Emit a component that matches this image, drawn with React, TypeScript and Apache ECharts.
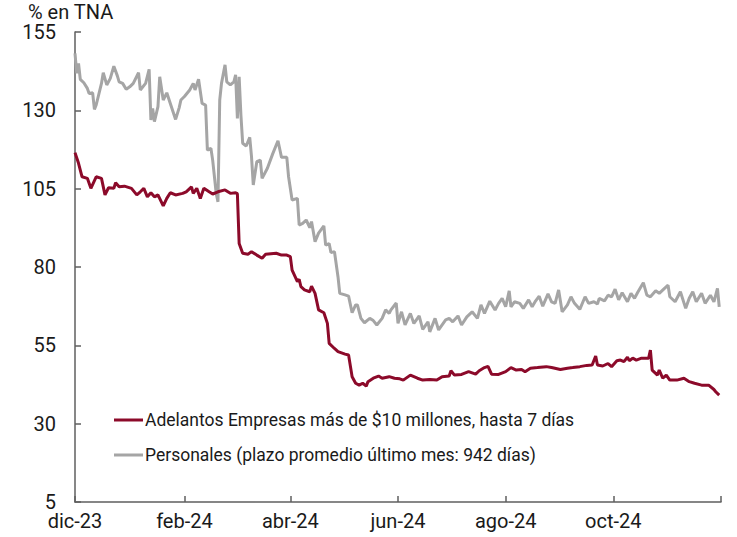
import React, { useEffect, useRef } from "react";
import * as echarts from "echarts";

const titleText = "% en TNA";
const serieNames = [
  "Adelantos Empresas más de $10 millones, hasta 7 días",
  "Personales (plazo promedio último mes: 942 días)",
];
const tickDates = ["2023-12-01", "2024-02-01", "2024-04-01", "2024-06-01", "2024-08-01", "2024-10-01", "2024-12-01"];
const tickLabels = ["dic-23", "feb-24", "abr-24", "jun-24", "ago-24", "oct-24", ""];
const yMin = 5;
const yMax = 155;
const yStep = 25;

const adelantosFechas = [
  "2023-12-01","2023-12-03","2023-12-05","2023-12-08","2023-12-10","2023-12-13","2023-12-16","2023-12-18","2023-12-20","2023-12-23",
  "2023-12-24","2023-12-26","2023-12-29","2024-01-02","2024-01-05","2024-01-07","2024-01-09","2024-01-11","2024-01-13","2024-01-15",
  "2024-01-17","2024-01-20","2024-01-22","2024-01-24","2024-01-27","2024-01-31","2024-02-02","2024-02-05","2024-02-06","2024-02-08",
  "2024-02-10","2024-02-12","2024-02-15","2024-02-17","2024-02-20","2024-02-24","2024-02-27","2024-03-01","2024-03-02","2024-03-03",
  "2024-03-05","2024-03-08","2024-03-10","2024-03-13","2024-03-16","2024-03-18","2024-03-24","2024-03-27","2024-03-30","2024-04-01",
  "2024-04-02","2024-04-05","2024-04-06","2024-04-07","2024-04-09","2024-04-12","2024-04-13","2024-04-15","2024-04-17","2024-04-20",
  "2024-04-22","2024-04-23","2024-04-26","2024-04-28","2024-05-02","2024-05-04","2024-05-06","2024-05-08","2024-05-10","2024-05-12",
  "2024-05-14","2024-05-15","2024-05-18","2024-05-21","2024-05-23","2024-05-27","2024-05-30","2024-06-02","2024-06-04","2024-06-08",
  "2024-06-12","2024-06-15","2024-06-19","2024-06-23","2024-06-26","2024-06-30","2024-07-01","2024-07-03","2024-07-07","2024-07-11",
  "2024-07-15","2024-07-17","2024-07-20","2024-07-22","2024-07-24","2024-07-28","2024-08-01","2024-08-04","2024-08-07","2024-08-10",
  "2024-08-12","2024-08-15","2024-08-19","2024-08-24","2024-08-27","2024-09-01","2024-09-05","2024-09-08","2024-09-12","2024-09-16",
  "2024-09-19","2024-09-21","2024-09-22","2024-09-25","2024-09-28","2024-09-30","2024-10-03","2024-10-05","2024-10-07","2024-10-09",
  "2024-10-10","2024-10-12","2024-10-14","2024-10-17","2024-10-21","2024-10-22","2024-10-23","2024-10-26","2024-10-27","2024-10-29",
  "2024-10-31","2024-11-02","2024-11-06","2024-11-10","2024-11-13","2024-11-16","2024-11-20","2024-11-24","2024-11-27","2024-11-28",
  "2024-11-30",
];
const adelantosValores = [
  116.5,113.1,108.8,108.3,105.1,108.8,108.3,103.0,105.3,105.1,
  106.9,105.6,105.8,105.1,103.0,104.0,105.1,102.4,103.7,102.4,
  103.0,99.5,101.9,103.7,103.0,103.5,104.0,105.6,103.5,105.1,
  101.9,105.1,104.0,103.3,104.0,104.6,103.5,103.7,103.4,87.5,
  84.4,84.1,84.9,83.8,82.8,84.1,84.4,83.8,83.8,83.3,
  79.0,75.3,76.1,73.7,72.7,72.1,73.9,71.6,66.3,65.4,
  62.0,55.6,54.0,53.0,52.2,51.9,45.0,42.9,42.3,42.9,
  42.0,43.4,44.5,45.2,44.5,45.0,44.5,44.3,43.9,45.5,
  44.5,43.9,44.1,43.9,45.0,45.2,46.9,45.5,45.7,46.6,
  45.8,46.9,47.9,48.3,45.8,45.7,46.6,47.9,47.1,47.3,
  46.6,47.7,47.9,48.2,47.9,47.3,47.7,47.9,48.2,48.6,
  48.7,51.6,48.7,48.4,49.2,48.2,50.1,50.3,49.8,51.2,
  50.1,50.9,50.3,50.9,50.9,53.5,47.1,45.5,47.1,44.5,
  45.5,43.9,43.9,44.5,43.4,42.9,42.3,42.3,40.9,40.2,
  39.1,
];

const personalesFechas = [
  "2023-12-01","2023-12-02","2023-12-03","2023-12-04","2023-12-06","2023-12-08","2023-12-09","2023-12-11","2023-12-12","2023-12-13",
  "2023-12-16","2023-12-17","2023-12-19","2023-12-21","2023-12-23","2023-12-25","2023-12-26","2023-12-28","2023-12-30","2024-01-01",
  "2024-01-03","2024-01-06","2024-01-07","2024-01-10","2024-01-12","2024-01-13","2024-01-14","2024-01-15","2024-01-17","2024-01-18",
  "2024-01-20","2024-01-22","2024-01-24","2024-01-27","2024-01-29","2024-01-30","2024-02-01","2024-02-04","2024-02-06","2024-02-07",
  "2024-02-09","2024-02-11","2024-02-13","2024-02-14","2024-02-16","2024-02-17","2024-02-19","2024-02-20","2024-02-21","2024-02-22",
  "2024-02-24","2024-02-25","2024-02-27","2024-02-29","2024-03-01","2024-03-02","2024-03-03","2024-03-04","2024-03-05","2024-03-07",
  "2024-03-09","2024-03-10","2024-03-11","2024-03-13","2024-03-15","2024-03-16","2024-03-19","2024-03-22","2024-03-25","2024-03-27",
  "2024-03-30","2024-03-31","2024-04-02","2024-04-05","2024-04-06","2024-04-08","2024-04-10","2024-04-12","2024-04-13","2024-04-15",
  "2024-04-17","2024-04-20","2024-04-21","2024-04-23","2024-04-24","2024-04-26","2024-04-28","2024-04-29","2024-05-02","2024-05-04",
  "2024-05-06","2024-05-08","2024-05-09","2024-05-11","2024-05-13","2024-05-16","2024-05-18","2024-05-20","2024-05-23","2024-05-25",
  "2024-05-27","2024-05-28","2024-05-31","2024-06-01","2024-06-03","2024-06-05","2024-06-08","2024-06-10","2024-06-13","2024-06-15",
  "2024-06-18","2024-06-19","2024-06-22","2024-06-24","2024-06-28","2024-06-30","2024-07-02","2024-07-05","2024-07-07","2024-07-10",
  "2024-07-13","2024-07-16","2024-07-18","2024-07-20","2024-07-23","2024-07-26","2024-07-28","2024-07-30","2024-08-01","2024-08-03",
  "2024-08-04","2024-08-06","2024-08-09","2024-08-11","2024-08-14","2024-08-16","2024-08-18","2024-08-20","2024-08-22","2024-08-25",
  "2024-08-27","2024-08-29","2024-08-31","2024-09-02","2024-09-05","2024-09-07","2024-09-09","2024-09-12","2024-09-15","2024-09-17",
  "2024-09-20","2024-09-22","2024-09-23","2024-09-26","2024-09-28","2024-09-30","2024-10-02","2024-10-04","2024-10-06","2024-10-09",
  "2024-10-11","2024-10-13","2024-10-15","2024-10-18","2024-10-20","2024-10-22","2024-10-25","2024-10-27","2024-10-30","2024-11-01",
  "2024-11-02","2024-11-05","2024-11-08","2024-11-11","2024-11-13","2024-11-15","2024-11-17","2024-11-20","2024-11-22","2024-11-25",
  "2024-11-27","2024-11-29","2024-11-30",
];
const personalesValores = [
  148.2,141.8,145.0,139.9,138.8,137.0,135.4,135.6,130.3,131.7,
  138.6,142.0,138.1,140.2,144.1,141.0,139.1,138.6,136.7,137.5,
  138.6,142.0,136.5,138.6,143.1,126.9,130.6,126.4,131.2,140.7,
  133.3,135.6,132.2,127.1,130.8,133.3,134.4,136.5,138.6,136.5,
  139.9,132.2,131.7,117.3,117.9,114.1,103.5,100.8,133.3,138.6,
  144.5,139.1,138.1,139.1,141.3,127.4,140.7,128.5,119.5,118.6,
  121.4,115.2,106.2,113.6,114.1,108.3,111.5,116.1,120.3,115.0,
  115.0,108.8,101.4,101.9,93.4,93.9,95.0,92.6,94.5,88.1,
  90.8,93.1,87.0,87.5,84.6,84.9,76.9,71.6,71.1,70.7,
  65.4,67.9,67.9,63.6,62.2,63.6,62.9,61.5,63.6,66.3,
  65.2,66.3,68.5,62.0,65.7,61.5,65.2,62.0,64.4,60.1,
  62.5,59.3,63.6,59.9,63.1,63.6,62.5,64.4,61.5,64.1,
  65.7,63.6,67.9,65.2,69.1,66.3,68.4,70.0,67.3,72.4,
  67.3,68.9,68.4,66.8,69.5,67.3,69.2,70.7,67.5,71.4,
  68.9,68.4,72.7,65.7,67.9,70.5,68.4,66.5,70.5,68.4,
  68.9,68.2,70.0,69.2,71.0,70.5,72.9,69.5,71.8,68.9,
  71.6,70.0,72.1,75.0,71.0,70.5,72.4,71.6,73.2,74.2,
  70.5,68.9,72.1,66.8,70.0,72.1,68.9,71.6,68.4,71.0,
  68.9,73.2,67.3,
];

const toTs = (s: string) => {
  const [y, m, d] = s.split("-").map(Number);
  return new Date(y, m - 1, d).getTime();
};

export default function App() {
  const ref = useRef<HTMLDivElement>(null);
  useEffect(() => {
    if (!ref.current) return;
    const chart = echarts.init(ref.current, null, { renderer: "svg" });
    const tickTs = tickDates.map(toTs);
    const labelMap: Record<string, string> = {};
    tickTs.forEach((t, i) => (labelMap[String(t)] = tickLabels[i]));
    const font = "Roboto, 'Noto Sans', sans-serif";
    const axisColor = "#5f5f5f";
    chart.setOption({
      animation: false,
      backgroundColor: "#ffffff",
      title: {
        text: titleText,
        left: 28,
        top: 3,
        padding: 0,
        textStyle: { fontFamily: font, fontSize: 20, lineHeight: 17, fontWeight: "normal", color: "#1a1a1a" },
      },
      legend: {
        orient: "vertical",
        left: 114,
        top: 411,
        padding: 0,
        itemWidth: 29,
        itemHeight: 14,
        itemGap: 17,
        icon: "path://M0,6 L29,6 L29,9 L0,9 Z",
        textStyle: { fontFamily: font, fontSize: 17.5, color: "#1a1a1a", padding: [0, 0, 0, -3] },
        data: serieNames,
      },
      grid: { left: 75, right: 16, top: 32, bottom: 35, containLabel: false },
      xAxis: {
        type: "value",
        min: tickTs[0],
        max: tickTs[tickTs.length - 1],
        splitLine: { show: false },
        axisLine: { show: true, lineStyle: { color: axisColor, width: 1.5 } },
        axisTick: {
          show: true,
          inside: true,
          length: 6,
          lineStyle: { color: axisColor, width: 1.5 },
          customValues: tickTs,
        },
        axisLabel: {
          fontFamily: font,
          fontSize: 20,
          lineHeight: 16,
          color: "#1a1a1a",
          margin: 11,
          showMinLabel: true,
          customValues: tickTs.slice(0, tickTs.length - 1),
          formatter: (v: number) => labelMap[String(v)] ?? "",
        },
      },
      yAxis: {
        type: "value",
        min: yMin,
        max: yMax,
        interval: yStep,
        splitLine: { show: false },
        axisLine: { show: true, lineStyle: { color: axisColor, width: 1.5 } },
        axisTick: { show: true, inside: true, length: 6, lineStyle: { color: axisColor, width: 1.5 } },
        axisLabel: { fontFamily: font, fontSize: 20, lineHeight: 16, color: "#1a1a1a", margin: 19 },
      },
      series: [
        {
          name: serieNames[1],
          type: "line",
          symbol: "none",
          lineStyle: { color: "#a5a5a5", width: 3 },
          itemStyle: { color: "#a5a5a5" },
          data: personalesFechas.map((d, i) => [toTs(d), personalesValores[i]]),
        },
        {
          name: serieNames[0],
          type: "line",
          symbol: "none",
          lineStyle: { color: "#8c0a2a", width: 3 },
          itemStyle: { color: "#8c0a2a" },
          data: adelantosFechas.map((d, i) => [toTs(d), adelantosValores[i]]),
        },
      ],
    });
    return () => chart.dispose();
  }, []);
  return (
    <div
      ref={ref}
      style={{ position: "fixed", left: 0, top: 0, width: 737, height: 537, background: "#fff" }}
    />
  );
}
